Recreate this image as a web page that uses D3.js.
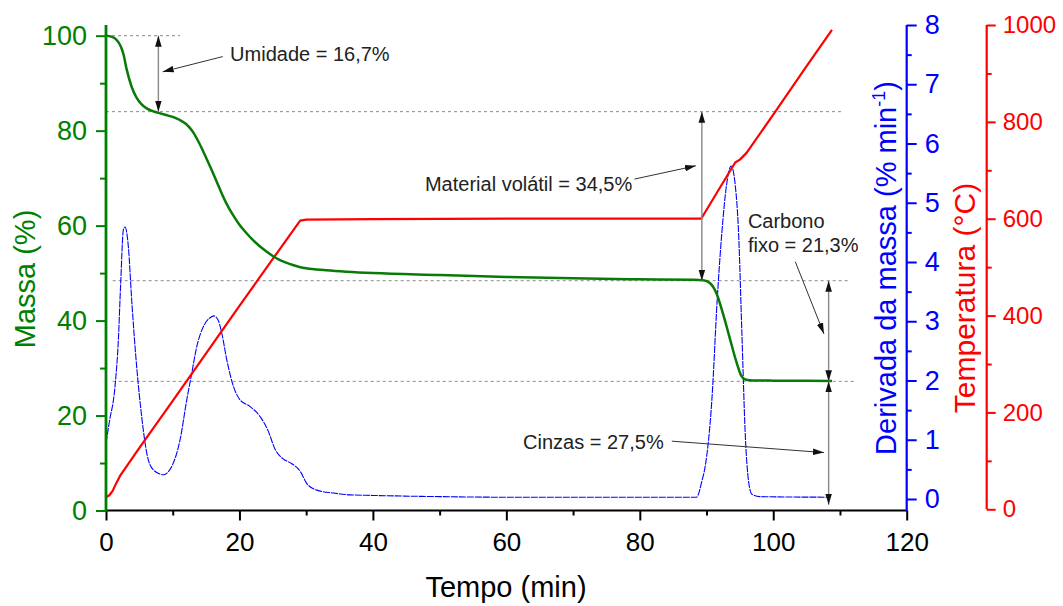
<!DOCTYPE html>
<html lang="pt">
<head>
<meta charset="UTF-8">
<title>TGA</title>
<style>
  body { margin: 0; background: #fff; }
  svg { font-family: "Liberation Sans", Arial, sans-serif; }
  .note { font-size: 20px; fill: #222; }
</style>
</head>
<body>
<svg id="chart" width="1063" height="606"></svg>
<script src="https://d3js.org/d3.v7.min.js"></script>
<script>
// massa (%) vs tempo (min)
const massaT = [0, 0.8, 1.6, 2.2, 2.6, 3.1, 3.85, 4.6, 5.3, 6.1, 7, 8, 9, 10, 11, 12, 13, 14, 15, 16, 17, 18, 19, 20, 21, 22, 23, 24, 25, 26, 27, 28, 29, 30, 33, 36, 40, 50, 60, 70, 80, 88, 89.5, 90.5, 91.5, 92.5, 93.5, 94.5, 95.2, 95.8, 97, 100, 108.8];
const massaV = [100, 99.8, 99.1, 97.8, 96.2, 92.9, 89.2, 86.9, 85.6, 84.7, 84.1, 83.7, 83.3, 82.9, 82.3, 81.4, 79.8, 77.3, 74.3, 71.2, 67.9, 64.8, 62.3, 60.2, 58.5, 57.0, 55.7, 54.6, 53.6, 52.8, 52.2, 51.7, 51.3, 51.0, 50.6, 50.3, 50.0, 49.6, 49.2, 48.9, 48.7, 48.6, 48.5, 47.9, 45.7, 41.3, 36.2, 31.2, 28.4, 27.6, 27.4, 27.35, 27.3];

// derivada da massa (% min-1)
const dtgT = [0, 0.5, 1.35, 1.85, 2.2, 2.6, 2.85, 3.35, 3.85, 4.6, 5.35, 6.1, 7.1, 8.6, 9.85, 11.1, 12.1, 12.85, 13.6, 14.6, 15.6, 16.2, 16.8, 17.35, 18.1, 19.1, 20.1, 21.6, 23.1, 24.3, 25.3, 26.5, 27.8, 29.1, 30.1, 31.6, 34.1, 36.6, 40, 50, 60, 80, 88.5, 89.3, 89.8, 90.8, 91.6, 92.3, 93, 93.7, 94.3, 94.8, 95.3, 95.8, 96.3, 96.8, 98, 108.5];
const dtgV = [0.95, 1.3, 1.9, 2.68, 3.64, 4.54, 4.59, 4.26, 3.36, 2.23, 1.39, 0.78, 0.49, 0.41, 0.55, 1.0, 1.67, 2.12, 2.57, 2.91, 3.06, 3.09, 3.02, 2.8, 2.35, 1.9, 1.67, 1.56, 1.39, 1.15, 0.85, 0.68, 0.6, 0.47, 0.26, 0.15, 0.1, 0.07, 0.06, 0.04, 0.03, 0.03, 0.03, 0.3, 0.55, 1.67, 3.36, 4.5, 5.3, 5.62, 5.3, 4.5, 2.8, 1.1, 0.3, 0.08, 0.04, 0.03];

// temperatura (°C)
const tempT = [0, 0.5, 1, 1.5, 2.1, 5, 10, 15, 20, 25, 29.1, 30, 40, 60, 89.2, 92, 94.3, 95, 96, 100, 105, 108.8];
const tempV = [25, 29, 38, 53, 69, 127, 224, 322, 420, 517, 596, 598, 599, 600, 600, 664, 716, 722, 736, 815, 915, 990];

const tempoTicks = [0, 20, 40, 60, 80, 100, 120];
const massaTicks = [0, 20, 40, 60, 80, 100];
const dtgTicks = [0, 1, 2, 3, 4, 5, 6, 7, 8];
const tempTicks = [0, 200, 400, 600, 800, 1000];

// linhas tracejadas de referência: [massa, t inicial, t final]
const refLines = [[100, 0, 11.1], [84, 0, 110.3], [48.4, 1, 111.5], [27.2, 1, 112.3]];
// setas duplas verticais: [t, massa topo, massa base]
const spans = [[7.85, 100, 84], [89.3, 84, 48.4], [108.3, 48.4, 27.2], [108.3, 27.2, 1.2]];
// setas indicadoras: [t0, m0, t1, m1]
const pointers = [[17.5, 95.6, 8.5, 92.4], [79.2, 69.8, 88.4, 72.6], [103.3, 52.4, 107.6, 37.2], [84.8, 14.6, 107.6, 12.2]];
// textos: [t, massa, texto]
const notes = [[18.6, 94.7, "Umidade = 16,7%"], [47.8, 67.3, "Material volátil = 34,5%"],
               [96.2, 59.5, "Carbono"], [96.2, 54.4, "fixo = 21,3%"], [62.5, 13.0, "Cinzas = 27,5%"]];

const green = "#008000", blue = "#0000ff", red = "#ff0000";
const plotTop = 25;

const x = d3.scaleLinear().domain([0, 120]).range([106, 906.7]);
const yM = d3.scaleLinear().domain([0, 100]).range([510.5, 35.7]);
const yD = d3.scaleLinear().domain([0, 8]).range([499, 25]);
const yT = d3.scaleLinear().domain([0, 1000]).range([509.3, 25]);

const svg = d3.select("#chart");

const defs = svg.append("defs");
defs.append("marker").attr("id", "head")
  .attr("viewBox", "0 0 10 6").attr("refX", 10).attr("refY", 3)
  .attr("markerWidth", 11).attr("markerHeight", 7)
  .attr("markerUnits", "userSpaceOnUse").attr("orient", "auto-start-reverse")
  .append("path").attr("d", "M0,0 L10,3 L0,6 Z").attr("fill", "#111");

// linhas de referência
svg.append("g").selectAll("line").data(refLines).enter().append("line")
  .attr("x1", d => x(d[1])).attr("x2", d => x(d[2]))
  .attr("y1", d => yM(d[0])).attr("y2", d => yM(d[0]))
  .attr("stroke", "#8a8a8a").attr("stroke-width", 1).attr("stroke-dasharray", "3,3");

// curvas
const dtgLine = d3.line().x(d => x(d[0])).y(d => yD(d[1])).curve(d3.curveMonotoneX);
svg.append("path").datum(d3.zip(dtgT, dtgV)).attr("d", dtgLine)
  .attr("fill", "none").attr("stroke", blue).attr("stroke-width", 1.1).attr("stroke-dasharray", "7,1");

const tempLine = d3.line().x(d => x(d[0])).y(d => yT(d[1]));
svg.append("path").datum(d3.zip(tempT, tempV)).attr("d", tempLine)
  .attr("fill", "none").attr("stroke", red).attr("stroke-width", 2.2).attr("stroke-linejoin", "round");

const massaLine = d3.line().x(d => x(d[0])).y(d => yM(d[1])).curve(d3.curveMonotoneX);
svg.append("path").datum(d3.zip(massaT, massaV)).attr("d", massaLine)
  .attr("fill", "none").attr("stroke", "#087a08").attr("stroke-width", 2.5);

// setas
svg.append("g").selectAll("line").data(spans).enter().append("line")
  .attr("x1", d => x(d[0])).attr("x2", d => x(d[0]))
  .attr("y1", d => yM(d[1])).attr("y2", d => yM(d[2]))
  .attr("stroke", "#888").attr("stroke-width", 1.4)
  .attr("marker-start", "url(#head)").attr("marker-end", "url(#head)");

svg.append("g").selectAll("line").data(pointers).enter().append("line")
  .attr("x1", d => x(d[0])).attr("y1", d => yM(d[1]))
  .attr("x2", d => x(d[2])).attr("y2", d => yM(d[3]))
  .attr("stroke", "#333").attr("stroke-width", 1)
  .attr("marker-end", "url(#head)");

svg.append("g").selectAll("text").data(notes).enter().append("text")
  .attr("class", "note")
  .attr("x", d => x(d[0])).attr("y", d => yM(d[1]))
  .text(d => d[2]);

// eixos
function styleAxis(g, color, size) {
  g.select(".domain").remove();
  g.selectAll("line").attr("stroke", color).attr("stroke-width", 2);
  g.selectAll("text").attr("fill", color).attr("font-size", size)
    .attr("font-family", "Liberation Sans, Arial, sans-serif");
}

// eixo x
const gx = svg.append("g").attr("transform", `translate(0,${yM(0)})`)
  .call(d3.axisBottom(x).tickValues(tempoTicks).tickSize(10).tickPadding(12));
styleAxis(gx, "#000", 26);
const gx2 = svg.append("g").attr("transform", `translate(0,${yM(0)})`)
  .call(d3.axisBottom(x).tickValues(d3.range(10, 120, 20)).tickSize(5).tickFormat(""));
styleAxis(gx2, "#000", 26);
svg.append("line").attr("x1", x(0)).attr("x2", x(120)).attr("y1", yM(0)).attr("y2", yM(0))
  .attr("stroke", "#000").attr("stroke-width", 2.2);

// eixo massa
const gm = svg.append("g").attr("transform", `translate(${x(0)},0)`)
  .call(d3.axisLeft(yM).tickValues(massaTicks).tickSize(10).tickPadding(9));
styleAxis(gm, green, 27);
const gm2 = svg.append("g").attr("transform", `translate(${x(0)},0)`)
  .call(d3.axisLeft(yM).tickValues(d3.range(10, 100, 20)).tickSize(6).tickFormat(""));
styleAxis(gm2, green, 27);
svg.append("line").attr("x1", x(0)).attr("x2", x(0)).attr("y1", plotTop).attr("y2", yM(0) + 1)
  .attr("stroke", green).attr("stroke-width", 2.8);

// eixo derivada
const gd = svg.append("g").attr("transform", `translate(${x(120)},0)`)
  .call(d3.axisRight(yD).tickValues(dtgTicks).tickSize(10).tickPadding(8));
styleAxis(gd, blue, 27);
const gd2 = svg.append("g").attr("transform", `translate(${x(120)},0)`)
  .call(d3.axisRight(yD).tickValues(d3.range(0.5, 8, 1)).tickSize(5).tickFormat(""));
styleAxis(gd2, blue, 27);
svg.append("line").attr("x1", x(120)).attr("x2", x(120)).attr("y1", plotTop).attr("y2", yM(0) + 1)
  .attr("stroke", blue).attr("stroke-width", 2.2);

// eixo temperatura
const xT = 986.7;
const gt = svg.append("g").attr("transform", `translate(${xT},0)`)
  .call(d3.axisRight(yT).tickValues(tempTicks).tickFormat(d3.format("d")).tickSize(9).tickPadding(7));
styleAxis(gt, red, 24);
const gt2 = svg.append("g").attr("transform", `translate(${xT},0)`)
  .call(d3.axisRight(yT).tickValues(d3.range(100, 1000, 200)).tickSize(5).tickFormat(""));
styleAxis(gt2, red, 24);
svg.append("line").attr("x1", xT).attr("x2", xT).attr("y1", plotTop).attr("y2", yT(0))
  .attr("stroke", red).attr("stroke-width", 2.2);

// títulos
svg.append("text").attr("x", 506).attr("y", 597).attr("text-anchor", "middle")
  .attr("font-size", 29).attr("fill", "#000").text("Tempo (min)");

svg.append("text").attr("transform", "translate(35,279) rotate(-90)").attr("text-anchor", "middle")
  .attr("font-size", 29).attr("fill", green).text("Massa (%)");

const dt = svg.append("text").attr("transform", "translate(896,268) rotate(-90)").attr("text-anchor", "middle")
  .attr("font-size", 29).attr("fill", blue);
dt.append("tspan").text("Derivada da massa (% min");
dt.append("tspan").attr("font-size", 18).attr("dy", -11).text("-1");
dt.append("tspan").attr("dy", 11).text(")");

svg.append("text").attr("transform", "translate(975,298) rotate(-90)").attr("text-anchor", "middle")
  .attr("font-size", 30).attr("fill", red).text("Temperatura (°C)");
</script>
</body>
</html>
